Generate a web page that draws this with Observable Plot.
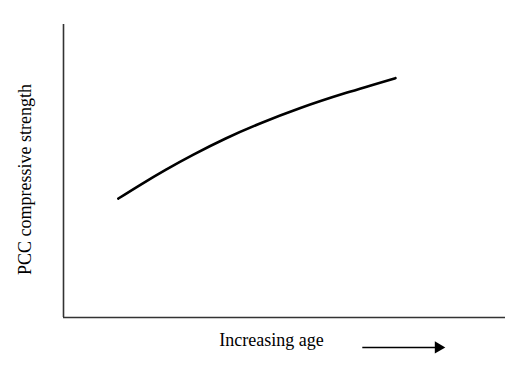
<!DOCTYPE html>
<html>
<head>
<meta charset="utf-8">
<script src="https://cdn.jsdelivr.net/npm/d3@7"></script>
<script src="https://cdn.jsdelivr.net/npm/@observablehq/plot@0.6"></script>
<style>
  html, body { margin: 0; padding: 0; background: #fff; }
</style>
</head>
<body>
<div id="chart"></div>
<script>
// Relative age (arbitrary units) and PCC compressive strength (arbitrary units)
const age      = [12.4, 17.4, 23.1, 29.4, 36.7, 44.6, 53.6, 63.8, 75.1];
const strength = [40.6, 45.3, 50.4, 55.6, 61.1, 66.3, 71.5, 76.6, 81.7];
const yLabel = "PCC compressive strength";
const xLabel = "Increasing age";
// "increasing age" arrow, in the same units
const arrowFrom = [67.6];
const arrowTo   = [84.8];
const arrowAt   = [-10.2];

const data = age.map((a, i) => ({age: a, strength: strength[i]}));
const arrow = arrowFrom.map((f, i) => ({x1: f, x2: arrowTo[i], y: arrowAt[i]}));

const chart = Plot.plot({
  width: 515,
  height: 365,
  marginLeft: 63,
  marginRight: 10,
  marginTop: 24,
  marginBottom: 48,
  style: {fontFamily: "'Liberation Serif', 'Times New Roman', serif", fontSize: "17px", background: "#fff", color: "#000"},
  x: {domain: [0, 100], axis: null},
  y: {domain: [0, 100], axis: null},
  marks: [
    Plot.ruleX([0], {stroke: "#333", strokeWidth: 1.6}),
    Plot.ruleY([0], {stroke: "#333", strokeWidth: 1.6}),
    Plot.line(data, {x: "age", y: "strength", curve: "natural", stroke: "#000", strokeWidth: 2.6}),
    Plot.text([yLabel], {frameAnchor: "left", textAnchor: "middle", text: d => d, rotate: -90, dx: -38, dy: 8.5, fontSize: 18, fill: "#000"}),
    Plot.text([xLabel], {frameAnchor: "bottom", textAnchor: "middle", text: d => d, dx: -13, dy: 28, fontSize: 18, fill: "#000"}),
    Plot.link(arrow, {x1: "x1", x2: "x2", y1: "y", y2: "y", stroke: "#000", strokeWidth: 1.5}),
    Plot.dot(arrow, {x: "x2", y: "y", symbol: "triangle", rotate: 90, r: 4.5, fill: "#000", stroke: null})
  ]
});
document.getElementById("chart").appendChild(chart);
</script>
</body>
</html>
